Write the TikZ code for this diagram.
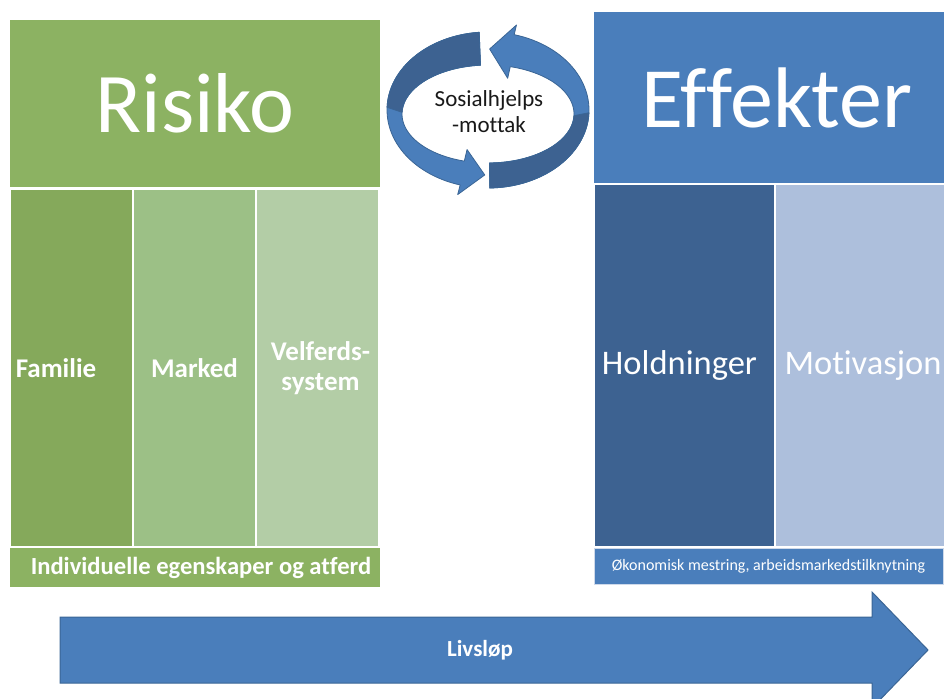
\documentclass[tikz,border=0pt]{standalone}
\usepackage{fontspec}
\setmainfont{Carlito}[RawFeature={-liga,-clig,-dlig}]
\definecolor{greenA}{HTML}{8CB262}
\definecolor{greenB}{HTML}{85A95B}
\definecolor{greenC}{HTML}{9CC086}
\definecolor{greenD}{HTML}{B3CDA6}
\definecolor{blueA}{HTML}{4A7EBB}
\definecolor{blueB}{HTML}{3D6291}
\definecolor{blueC}{HTML}{ADBFDC}
\definecolor{blueEdge}{HTML}{3A6595}
\begin{document}
\begin{tikzpicture}[x=1pt,y=-1pt,
  box/.style={draw=none, inner sep=0pt, outer sep=0pt, anchor=north west, text=white, align=center},
  bigtitle/.style={font=\fontsize{85}{90}\selectfont},
  subbold/.style={font=\bfseries\fontsize{27}{30}\selectfont},
  subreg/.style={font=\fontsize{34.5}{38}\selectfont},
  ribbon/.style={fill=blueA, draw=blueEdge, line width=0.8pt, line join=round},
  ribbondark/.style={fill=blueB, draw=blueEdge, line width=0.8pt, line join=round}]
\useasboundingbox (0,0) rectangle (944,698);
\clip (0,0) rectangle (944,698);

% ---- left block
\node[box, fill=greenA, minimum width=370pt, minimum height=167pt, bigtitle] (risiko) at (10,20) {Risiko};
\node[box, fill=greenB, minimum width=121pt, minimum height=356pt, subbold] (familie) at (11,190) {\hspace*{-31pt}Familie};
\node[box, fill=greenC, minimum width=121pt, minimum height=356pt, subbold] (marked) at (134,190) {Marked};
\node[box, fill=greenD, minimum width=121pt, minimum height=356pt, subbold] (velferd) at (257,190) {\hspace*{6pt}Velferds-\\\hspace*{6pt}system};
\node[box, fill=greenA, minimum width=370pt, minimum height=39pt, font=\bfseries\fontsize{24.6}{28}\selectfont] (indiv) at (10,548) {\hspace*{12pt}Individuelle egenskaper og atferd};

% ---- right block
\node[box, fill=blueA, minimum width=350pt, minimum height=171pt, font=\fontsize{86}{90}\selectfont] (effekter) at (594,12) {\hspace*{16pt}Effekter};
\node[box, fill=blueB, minimum width=179pt, minimum height=361pt, subreg] (holdn) at (595,185) {\hspace*{-10pt}Holdninger};
\node[box, fill=blueC, minimum width=168pt, minimum height=361pt, subreg] (motiv) at (776,185) {\hspace*{6pt}Motivasjon};
\node[box, fill=blueA, draw=blueC!60, line width=0.6pt, minimum width=349pt, minimum height=36pt, font=\fontsize{16}{18}\selectfont] (okon) at (594,548) {Økonomisk mestring, arbeidsmarkedstilknytning};

% ---- circular arrows
% arrow A (left half, head at bottom)
\path[ribbon] plot[domain=95:254, samples=60] ({488+101*cos(\x)},{110-78*sin(\x)})
  -- ({488+110*cos(254)},{110-88*sin(254)})
  -- ({488+93*cos(268)},{112-63*sin(268)})
  -- ({488+76*cos(254)},{114-37*sin(254)})
  -- plot[domain=254:95, samples=60] ({488+86*cos(\x)},{114-49*sin(\x)}) -- cycle;
\path[ribbondark] plot[domain=95:178, samples=50] ({488+101*cos(\x)},{110-78*sin(\x)})
  -- plot[domain=178:95, samples=50] ({488+86*cos(\x)},{114-49*sin(\x)}) -- cycle;
% arrow B (right half, head at top)
\path[ribbon] plot[domain=271:435, samples=60] ({488+101*cos(\x)},{110-78*sin(\x)})
  -- ({488+110*cos(435)},{110-88*sin(435)})
  -- ({488+93*cos(449)},{112-63*sin(449)})
  -- ({488+76*cos(435)},{114-37*sin(435)})
  -- plot[domain=435:271, samples=60] ({488+86*cos(\x)},{114-49*sin(\x)}) -- cycle;
\path[ribbondark] plot[domain=271:358, samples=50] ({488+101*cos(\x)},{110-78*sin(\x)})
  -- plot[domain=358:271, samples=50] ({488+86*cos(\x)},{114-49*sin(\x)}) -- cycle;
\node[align=center, text=black!90, font=\fontsize{23}{26}\selectfont, inner sep=0pt] (sosial) at (489,112) {Sosialhjelps\\-mottak};

% ---- life-course arrow
\path[fill=blueA, draw=blueEdge, line width=1pt, line join=miter]
  (60,617) -- (872,617) -- (872,592) -- (928,650) -- (872,708) -- (872,683) -- (60,683) -- cycle;
\node[text=white, font=\bfseries\fontsize{23}{26}\selectfont, inner sep=0pt] (livslop) at (480,650) {Livsløp};
\end{tikzpicture}
\end{document}
